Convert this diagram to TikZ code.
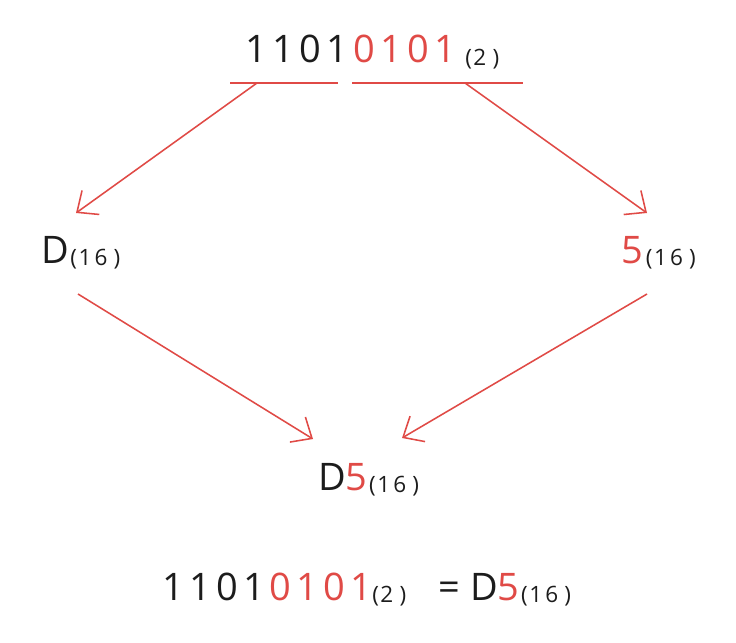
\documentclass[tikz,border=0pt]{standalone}
\usepackage{fontspec}
\setmainfont{Open Sans}
\usepackage{xcolor}
\usetikzlibrary{arrows.meta}
\definecolor{penred}{RGB}{224,74,70}
\definecolor{penblack}{RGB}{28,28,28}
\newcommand{\dcell}[1]{\makebox[0.67cm]{#1}}
\newcommand{\lastcell}[1]{\makebox[0.515cm][l]{\hspace{0.065cm}#1}}
\newcommand{\radcell}[1]{\makebox[0.4cm]{#1}}
\newcommand{\basetwo}{\raisebox{-1.5pt}{\fontsize{16}{18}\selectfont(\radcell{2}\radcell{)}}}
\newcommand{\basehex}{\raisebox{-1.5pt}{\fontsize{16}{18}\selectfont(\radcell{1}\radcell{6}\radcell{)}}}

\begin{document}
\begin{tikzpicture}[x=0.025cm, y=-0.025cm,
  num/.style={inner sep=0, anchor=base west, font=\fontsize{27}{30}\selectfont, text=penblack},
  uline/.style={penred, line width=1.1pt},
  arr/.style={penred, line width=1.1pt, -{Straight Barb[length=12pt,width=21pt]}}]
\fill[white] (0,0) rectangle (736,643);
\useasboundingbox (0,0) rectangle (736,643);
% Binary number, split in two groups of four bits
\node[num] (tophi) at (243,63) {\dcell1\dcell1\dcell0\dcell1};
\node[num, text=penred] (toplo) at (351,63) {\dcell0\dcell1\dcell0\lastcell1};
\node[num] (topbase) at (465,63) {\basetwo};
% Underlines
\coordinate (hia) at (230,83); \coordinate (hib) at (338,83);
\coordinate (loa) at (352,83); \coordinate (lob) at (523,83);
\draw[uline] (hia) -- (hib);
\draw[uline] (loa) -- (lob);
% Hex digits
\node[num] (dl) at (41,263) {D\kern1pt\basehex};
\node[num] (fr) at (621,263) {\textcolor{penred}{5}\kern2pt\basehex};
\node[num] (dfm) at (318,490) {D\textcolor{penred}{5}\kern1pt\basehex};
% Arrow ends
\coordinate (hiout) at (257,83); \coordinate (loout) at (465,83);
\coordinate (dlin) at (76,213); \coordinate (frin) at (647,213);
\coordinate (dlout) at (78,294); \coordinate (frout) at (647,294);
\coordinate (dfml) at (313,439); \coordinate (dfmr) at (402,438);
\draw[arr] (hiout) -- (dlin);
\draw[arr] (loout) -- (frin);
\draw[arr] (dlout) -- (dfml);
\draw[arr] (frout) -- (dfmr);
% Result
\node[num] (bhi) at (160,600) {\dcell1\dcell1\dcell0\dcell1};
\node[num, text=penred] (blo) at (267,600) {\dcell0\dcell1\dcell0\lastcell1};
\node[num] (bbase) at (372,600) {\basetwo};
\node[num] (eq) at (438,600) {=};
\node[num] (res) at (470,600) {D\textcolor{penred}{5}\kern1pt\basehex};
\end{tikzpicture}
\end{document}
